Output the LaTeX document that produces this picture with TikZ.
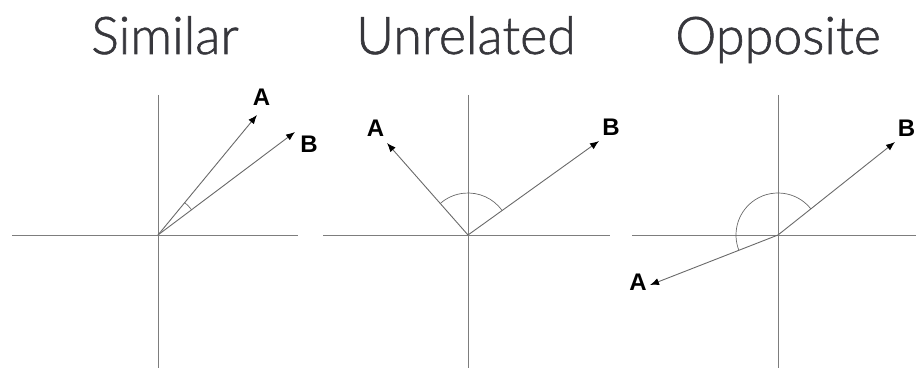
\documentclass[tikz,border=0pt]{standalone}
\usepackage{fontspec}
\setmainfont{Liberation Sans}
\newfontfamily\titlefont{Lato Light}[FakeBold=1.2]
\usetikzlibrary{arrows.meta}
\definecolor{titlegray}{RGB}{55,55,60}
\definecolor{axisgray}{RGB}{125,125,125}
\definecolor{vecgray}{RGB}{105,105,105}
\tikzset{
  axis/.style={draw=axisgray, line width=0.9pt},
  vec/.style={draw=vecgray, line width=0.9pt, -{Latex[length=9pt,width=7pt,color=black]}},
  anglearc/.style={draw=vecgray, line width=0.7pt},
  lbl/.style={font=\fontsize{24}{24}\selectfont\bfseries, inner sep=0pt, text=black},
  ttl/.style={font=\titlefont\fontsize{52}{52}\selectfont, text=titlegray, inner sep=0pt, anchor=base}
}
\begin{document}
\begin{tikzpicture}[x=1pt,y=1pt]
\useasboundingbox (0,0) rectangle (916,370);
% titles
\node[ttl] (t1) at (165,316) {Similar};
\node[ttl] (t2) at (466,316) {Unrelated};
\node[ttl] (t3) at (778,316) {Opposite};
% panel 1
\coordinate (O1) at (158,135);
\coordinate (h1l) at (12,135); \coordinate (h1r) at (298,135);
\coordinate (v1t) at (158,275); \coordinate (v1b) at (158,2);
\draw[axis] (h1l) -- (h1r);
\draw[axis] (v1t) -- (v1b);
\coordinate (A1) at (257,255);
\coordinate (B1) at (295,238);
\draw[vec] (O1) -- (A1);
\draw[vec] (O1) -- (B1);
\draw[anglearc] (O1) ++(36.9:42pt) arc[start angle=36.9, end angle=50.5, radius=42pt];
\node[lbl] (la1) at (261.5,272.5) {A};
\node[lbl] (lb1) at (309,226) {B};
% panel 2
\coordinate (O2) at (468,135);
\coordinate (h2l) at (323,135); \coordinate (h2r) at (610,135);
\coordinate (v2t) at (468,275); \coordinate (v2b) at (468,2);
\draw[axis] (h2l) -- (h2r);
\draw[axis] (v2t) -- (v2b);
\coordinate (A2) at (387,227);
\coordinate (B2) at (599,229);
\draw[vec] (O2) -- (A2);
\draw[vec] (O2) -- (B2);
\draw[anglearc] (O2) ++(35.7:42pt) arc[start angle=35.7, end angle=131.4, radius=42pt];
\node[lbl] (la2) at (375.5,242) {A};
\node[lbl] (lb2) at (611,243) {B};
% panel 3
\coordinate (O3) at (778,135);
\coordinate (h3l) at (632,135); \coordinate (h3r) at (916,135);
\coordinate (v3t) at (778,275); \coordinate (v3b) at (778,2);
\draw[axis] (h3l) -- (h3r);
\draw[axis] (v3t) -- (v3b);
\coordinate (A3) at (650,85);
\coordinate (B3) at (895,228);
\draw[vec] (O3) -- (A3);
\draw[vec] (O3) -- (B3);
\draw[anglearc] (O3) ++(38.5:42pt) arc[start angle=38.5, end angle=201.3, radius=42pt];
\node[lbl] (la3) at (638,88) {A};
\node[lbl, anchor=east] (lb3) at (915.5,242) {B};
\end{tikzpicture}
\end{document}
